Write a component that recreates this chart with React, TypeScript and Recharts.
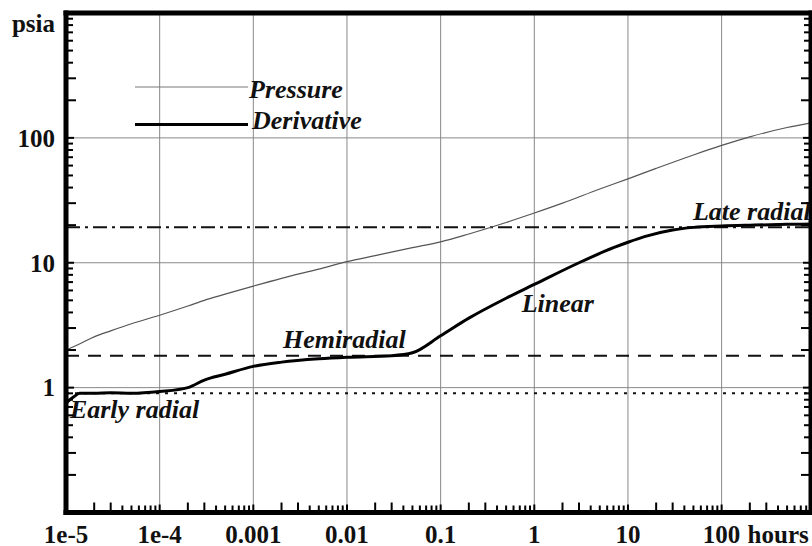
import { Line, LineChart, ReferenceDot, ReferenceLine, XAxis, YAxis, Legend } from 'recharts'

const FONT = '"Liberation Serif", "Times New Roman", serif'

// axis decades and their labels
const xDecades = [1e-5, 1e-4, 0.001, 0.01, 0.1, 1, 10, 100]
const xTickLabels = ['1e-5', '1e-4', '0.001', '0.01', '0.1', '1', '10', '100']
const xUnit = 'hours'
const yDecades = [0.1, 1, 10, 100]
const yTickLabels = ['', '1', '10', '100']
const yUnit = 'psia'

// pressure curve (hours, psia)
const pressureTime = [
  1e-5, 1.5e-5, 2e-5, 3e-5, 5e-5, 1e-4, 2e-4, 3e-4, 5e-4, 1e-3, 2e-3, 5e-3, 1e-2, 2e-2, 5e-2, 0.1, 0.2,
  0.5, 1, 2, 5, 10, 20, 50, 100, 200, 500, 900,
]
const pressureValue = [
  2.0, 2.3, 2.55, 2.85, 3.25, 3.8, 4.5, 5.0, 5.6, 6.5, 7.5, 8.9, 10.2, 11.4, 13.2, 14.7, 17, 21, 25, 30,
  39, 47, 57, 73, 87, 102, 121, 132,
]

// derivative curve
const derivativeTime = [
  1e-5, 1.2e-5, 1.4e-5, 2e-5, 3e-5, 5e-5, 1e-4, 2e-4, 3e-4, 5e-4, 1e-3, 2e-3, 5e-3, 1e-2, 3e-2, 5e-2,
  0.1, 0.2, 0.5, 1, 3, 7, 10, 15, 30, 50, 100, 200, 500, 900,
]
const derivativeValue = [
  0.75, 0.84, 0.9, 0.9, 0.91, 0.9, 0.93, 1.0, 1.15, 1.28, 1.48, 1.6, 1.7, 1.75, 1.8, 1.9, 2.6, 3.6, 5.2,
  6.7, 10, 13.2, 14.6, 16.2, 18.3, 19.2, 19.7, 20, 20.3, 20.4,
]

const seriesNames = ['Pressure', 'Derivative']

// flow regime levels
const regimeLevels = [0.9, 1.8, 19.2]
const regimeDash = ['3 6', '13 9', '14 5 3 5']

// annotations
const noteText = ['Early radial', 'Hemiradial', 'Linear', 'Late radial']
const noteTime = [1.1e-5, 0.00207, 0.734, 49.4]
const noteValue = [0.568, 2.06, 4.05, 22]

const pressureData = pressureTime.map((t, i) => ({ t, v: pressureValue[i] }))
const derivativeData = derivativeTime.map((t, i) => ({ t, v: derivativeValue[i] }))

const withMinors = (decades: number[], last: number) => {
  const out: number[] = []
  decades.forEach((d) => {
    for (let m = 1; m <= 9; m++) {
      const v = +(d * m).toPrecision(6)
      if (v <= last * 1.0001) out.push(v)
    }
  })
  return out
}

const xDomain: [number, number] = [1e-5, 900]
const yDomain: [number, number] = [0.1, 1000]
const xTicks = withMinors([...xDecades], xDomain[1])
const yTicks = [...withMinors(yDecades, yDomain[1]), 1000]

const mantissa = (v: number) => Math.round(v / 10 ** Math.floor(Math.log10(v) + 1e-9))
const tickLen = (v: number) => {
  const m = mantissa(v)
  return m === 1 ? 8 : m <= 3 ? 10 : 7
}
const labelIndex = (list: number[], v: number) =>
  list.findIndex((d) => Math.abs(Math.log10(d) - Math.log10(v)) < 1e-6)

const labelStyle = { fontFamily: FONT, fontWeight: 700, fontSize: 25, fill: '#111' }
const noteStyle = { fontFamily: FONT, fontWeight: 700, fontStyle: 'italic', fontSize: 26, fill: '#111' }
const frame = { stroke: '#000', strokeWidth: 5, strokeLinecap: 'square' as const }

function BottomTick({ x, y, payload }: any) {
  const i = labelIndex(xDecades, payload.value)
  const last = i === xDecades.length - 1
  return (
    <g>
      <line x1={x} x2={x} y1={y} y2={y - tickLen(payload.value)} stroke="#000" strokeWidth={2} />
      {i >= 0 && (
        <text x={x} y={y + 30} textAnchor="middle" style={labelStyle}>
          {xTickLabels[i]}
        </text>
      )}
      {last && (
        <text x={x + 26} y={y + 30} textAnchor="start" style={labelStyle}>
          {xUnit}
        </text>
      )}
    </g>
  )
}

function TopTick({ x, y, payload }: any) {
  return <line x1={x} x2={x} y1={y} y2={y + tickLen(payload.value)} stroke="#000" strokeWidth={2} />
}

function LeftTick({ x, y, payload }: any) {
  const i = labelIndex(yDecades, payload.value)
  return (
    <g>
      <line x1={x} x2={x + tickLen(payload.value)} y1={y} y2={y} stroke="#000" strokeWidth={2} />
      {i >= 0 && yTickLabels[i] && (
        <text x={x - 11} y={y} dy="0.35em" textAnchor="end" style={labelStyle}>
          {yTickLabels[i]}
        </text>
      )}
    </g>
  )
}

function RightTick({ x, y, payload }: any) {
  return <line x1={x} x2={x - tickLen(payload.value)} y1={y} y2={y} stroke="#000" strokeWidth={2} />
}

function UnitLabel({ viewBox }: any) {
  return (
    <text x={viewBox.x + viewBox.width - 11} y={viewBox.y + 19} textAnchor="end" style={labelStyle}>
      {yUnit}
    </text>
  )
}

function Note({ viewBox, text }: any) {
  return (
    <text x={viewBox.x} y={viewBox.y} style={noteStyle}>
      {text}
    </text>
  )
}

function SeriesLegend() {
  return (
    <svg width={260} height={70} style={{ overflow: 'visible' }}>
      <line x1={5} x2={118} y1={15} y2={15} stroke="#777" strokeWidth={1} />
      <text x={119} y={26} style={noteStyle}>
        {seriesNames[0]}
      </text>
      <line x1={5} x2={118} y1={52.5} y2={52.5} stroke="#000" strokeWidth={3} />
      <text x={122} y={57} style={noteStyle}>
        {seriesNames[1]}
      </text>
    </svg>
  )
}

export default function App() {
  return (
    <div style={{ position: 'absolute', left: 0, top: 0, background: '#fff' }}>
      <LineChart width={812} height={546} margin={{ top: 12, right: 0, bottom: 0, left: 0 }}>
        <XAxis
          xAxisId="b"
          dataKey="t"
          type="number"
          scale="log"
          domain={xDomain}
          allowDataOverflow
          ticks={xTicks}
          interval={0}
          tick={BottomTick}
          tickLine={false}
          tickSize={0}
          tickMargin={0}
          axisLine={frame}
          height={33.5}
        />
        <XAxis
          xAxisId="t"
          orientation="top"
          type="number"
          scale="log"
          domain={xDomain}
          allowDataOverflow
          ticks={xTicks}
          interval={0}
          tick={TopTick}
          tickLine={false}
          tickSize={0}
          tickMargin={0}
          axisLine={frame}
          height={1}
        />
        <YAxis
          yAxisId="l"
          type="number"
          scale="log"
          domain={yDomain}
          allowDataOverflow
          ticks={yTicks}
          interval={0}
          tick={LeftTick}
          tickLine={false}
          tickSize={0}
          tickMargin={0}
          axisLine={frame}
          width={66}
          label={<UnitLabel />}
        />
        <YAxis
          yAxisId="r"
          orientation="right"
          type="number"
          scale="log"
          domain={yDomain}
          allowDataOverflow
          ticks={yTicks}
          interval={0}
          tick={RightTick}
          tickLine={false}
          tickSize={0}
          tickMargin={0}
          axisLine={frame}
          width={1}
        />
        {xDecades.slice(1).map((d) => (
          <ReferenceLine key={`gx${d}`} xAxisId="b" yAxisId="l" x={d} stroke="#888" strokeWidth={1} />
        ))}
        {yDecades.slice(1).map((d) => (
          <ReferenceLine key={`gy${d}`} xAxisId="b" yAxisId="l" y={d} stroke="#888" strokeWidth={1} />
        ))}
        {regimeLevels.map((lv, i) => (
          <ReferenceLine
            key={`r${lv}`}
            xAxisId="b"
            yAxisId="l"
            y={lv}
            stroke="#111"
            strokeWidth={2}
            strokeDasharray={regimeDash[i]}
          />
        ))}
        <Legend
          layout="vertical"
          align="center"
          verticalAlign="middle"
          wrapperStyle={{ left: 130, top: 72, width: 260, height: 70 }}
          content={SeriesLegend}
        />
        <Line
          xAxisId="b"
          yAxisId="l"
          data={pressureData}
          dataKey="v"
          name={seriesNames[0]}
          type="monotone"
          stroke="#555"
          strokeWidth={1.2}
          dot={false}
          isAnimationActive={false}
        />
        <Line
          xAxisId="b"
          yAxisId="l"
          data={derivativeData}
          dataKey="v"
          name={seriesNames[1]}
          type="monotone"
          stroke="#000"
          strokeWidth={3}
          dot={false}
          isAnimationActive={false}
        />
        {noteText.map((txt, i) => (
          <ReferenceDot
            key={txt}
            xAxisId="b"
            yAxisId="l"
            x={noteTime[i]}
            y={noteValue[i]}
            r={0}
            fill="none"
            stroke="none"
            label={<Note text={txt} />}
          />
        ))}
      </LineChart>
    </div>
  )
}
